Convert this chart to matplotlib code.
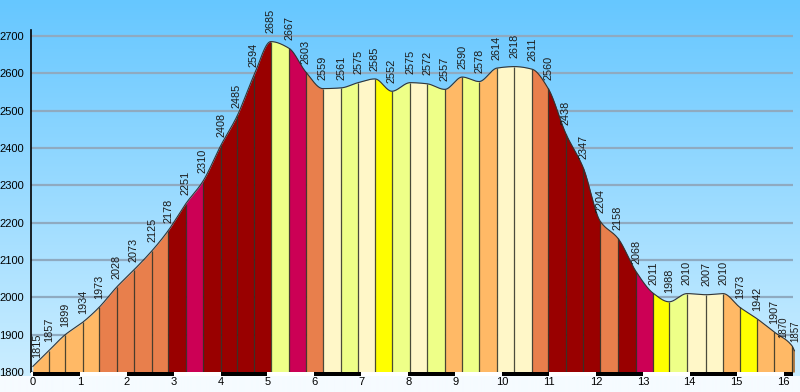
import numpy as np
import matplotlib.pyplot as plt

# distance (km) and altitude (m) of each profile point
dist = [0.00, 0.34, 0.68, 1.07, 1.41, 1.79, 2.15, 2.54, 2.88, 3.26,
        3.62, 4.01, 4.35, 4.71, 5.07, 5.46, 5.82, 6.18, 6.57, 6.93,
        7.29, 7.65, 8.04, 8.40, 8.78, 9.15, 9.51, 9.89, 10.26, 10.64,
        10.98, 11.36, 11.73, 12.09, 12.47, 12.86, 13.22, 13.56, 13.94, 14.35,
        14.71, 15.07, 15.44, 15.80, 16.18, 16.23]
alt = [1815, 1857, 1899, 1934, 1973, 2028, 2073, 2125, 2178, 2251,
       2310, 2408, 2485, 2594, 2685, 2667, 2603, 2559, 2561, 2575,
       2585, 2552, 2575, 2572, 2557, 2590, 2578, 2614, 2618, 2611,
       2560, 2438, 2347, 2204, 2158, 2068, 2011, 1988, 2010, 2007,
       2010, 1973, 1942, 1907, 1870, 1857]

# slope class of each segment
seg_class = ["lo", "lo", "lo", "lo", "or", "or", "or", "or", "dr", "cr",
             "dr", "dr", "dr", "dr", "pg", "cr", "or", "cm", "pg", "cm",
             "ye", "pg", "cm", "pg", "lo", "pg", "lo", "cm", "cm", "or",
             "dr", "dr", "dr", "or", "dr", "cr", "ye", "pg", "cm", "cm",
             "lo", "ye", "lo", "lo", "br"]
palette = {"lo": "#FFB966", "or": "#E87F4C", "dr": "#990000", "cr": "#CC0055",
           "pg": "#EEFF88", "cm": "#FFF7C8", "ye": "#FFFF00", "br": "#A8743F"}

yticks = list(range(1800, 2701, 100))
xticks = list(range(0, 17))


def pchip(x, y, xs):
    x = np.asarray(x, float)
    y = np.asarray(y, float)
    h = np.diff(x)
    d = np.diff(y) / h
    m = np.zeros_like(y)
    m[0], m[-1] = d[0], d[-1]
    for k in range(1, len(x) - 1):
        if d[k - 1] * d[k] > 0:
            w1 = 2 * h[k] + h[k - 1]
            w2 = h[k] + 2 * h[k - 1]
            m[k] = (w1 + w2) / (w1 / d[k - 1] + w2 / d[k])
    i = np.clip(np.searchsorted(x, xs) - 1, 0, len(x) - 2)
    t = (xs - x[i]) / h[i]
    h00 = 2 * t**3 - 3 * t**2 + 1
    h10 = t**3 - 2 * t**2 + t
    h01 = -2 * t**3 + 3 * t**2
    h11 = t**3 - t**2
    return h00 * y[i] + h10 * h[i] * m[i] + h01 * y[i + 1] + h11 * h[i] * m[i + 1]


fig = plt.figure(figsize=(8, 3.92), dpi=100)

# sky gradient background
rows = np.linspace(0, 1, 392)[:, None]
top = np.array([102, 199, 255]) / 255
bot = np.array([202, 237, 255]) / 255
grad = top + (bot - top) * np.clip(rows / (372 / 392), 0, 1)
grad[376:] = np.array([246, 251, 255]) / 255
bg = fig.add_axes([0, 0, 1, 1])
bg.imshow(grad[:, None, :].repeat(2, axis=1), aspect="auto", extent=[0, 1, 0, 1])
bg.axis("off")

ax = fig.add_axes([31 / 800, 20 / 392, 762 / 800, 342 / 392])
ax.patch.set_alpha(0)
ax.set_xlim(-0.04, 16.2)
ax.set_ylim(1800, 2716)

for y in yticks:
    ax.axhline(y, color="#8FAAC0", lw=1.6, zorder=1)

for i in range(len(dist) - 1):
    xs = np.linspace(dist[i], dist[i + 1], 30)
    ax.fill_between(xs, 1800, pchip(dist, alt, xs), color=palette[seg_class[i]],
                    lw=0, zorder=2, clip_on=False)

ax.vlines(dist[1:-1], 1800, alt[1:-1], color="#2E2E22", lw=0.9, alpha=0.85, zorder=3)
xs_all = np.linspace(dist[0], dist[-1], 1500)
ax.plot(xs_all, pchip(dist, alt, xs_all), color="#333333", lw=0.8, zorder=4,
        clip_on=False)

n = len(alt)
for j, (d, a) in enumerate(zip(dist, alt)):
    dx, fs = 0, 7.8
    if j == 0:
        dx = 3
    elif j == n - 2:
        dx, fs = -6.5, 7
    elif j == n - 1:
        dx, fs = 0.5, 7
    ax.annotate(str(a), (d, a), xytext=(dx, 6), textcoords="offset points",
                rotation=90, ha="center", va="bottom", fontsize=fs,
                family="Liberation Sans", color="#1a1a1a", zorder=5,
                annotation_clip=False)

ax.set_xticks([])
ax.set_yticks(yticks)
ax.set_yticklabels([str(v) for v in yticks], family="Liberation Sans", fontsize=8)
ax.tick_params(axis="y", length=0, pad=5)
for s in ["top", "right", "bottom"]:
    ax.spines[s].set_visible(False)
ax.spines["left"].set_color("black")
ax.spines["left"].set_linewidth(1.2)

# km ruler under the profile
rax = fig.add_axes([31 / 800, 16 / 392, 762 / 800, 4 / 392])
rax.set_xlim(-0.04, 16.2)
rax.set_ylim(0, 1)
for k in xticks:
    rax.axvspan(k, k + 1, color="black" if k % 2 == 0 else "white", lw=0)
rax.set_xticks(xticks)
rax.set_xticklabels([str(k) for k in xticks], family="Liberation Sans", fontsize=8)
rax.tick_params(axis="x", length=0, pad=1)
rax.set_yticks([])
for s in rax.spines.values():
    s.set_visible(False)

fig.savefig("out.png", dpi=100)
